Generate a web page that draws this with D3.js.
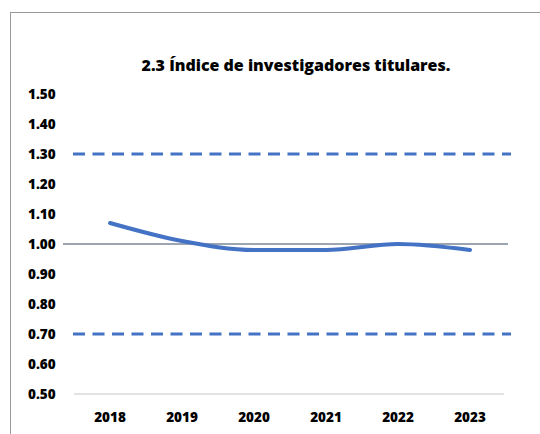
<!DOCTYPE html>
<html>
<head>
<meta charset="utf-8">
<script src="https://cdn.jsdelivr.net/npm/d3@7"></script>
<style>
  body { margin: 0; background: #fff; }
  text { font-family: "Open Sans", "Liberation Sans", sans-serif; font-weight: 800; fill: #000; }
</style>
</head>
<body>
<div id="chart"></div>
<script>
// Chart data
const years = ["2018", "2019", "2020", "2021", "2022", "2023"];
const indexValues = [1.07, 1.01, 0.98, 0.98, 1.00, 0.98];
const upperLimit = 1.30;
const lowerLimit = 0.70;
const referenceValue = 1.00;
const yTicks = [0.5, 0.6, 0.7, 0.8, 0.9, 1.0, 1.1, 1.2, 1.3, 1.4, 1.5];

const width = 540;
const height = 434;

// Create the SVG container
const svg = d3.select("#chart")
  .append("svg")
  .attr("width", width)
  .attr("height", height);

// Outer frame
svg.append("rect")
  .attr("x", 10.5)
  .attr("y", 12.5)
  .attr("width", 540)
  .attr("height", 440)
  .attr("fill", "none")
  .attr("stroke", "#999999")
  .attr("stroke-width", 1);

// Scales
const xScale = d3.scalePoint()
  .domain(years)
  .range([110, 470]);

const yScale = d3.scaleLinear()
  .domain([0.5, 1.5])
  .range([394, 94]);

// Title
svg.append("text")
  .attr("x", 296)
  .attr("y", 71)
  .attr("text-anchor", "middle")
  .style("font-size", "16px")
  .text("2.3 Índice de investigadores titulares.");

// Y axis labels
svg.selectAll(".ytick")
  .data(yTicks)
  .enter()
  .append("text")
  .attr("class", "ytick")
  .attr("x", 28)
  .attr("y", d => yScale(d) + 5)
  .style("font-size", "13.5px")
  .text(d => d3.format(".2f")(d));

// X axis baseline
svg.append("line")
  .attr("x1", 74)
  .attr("x2", 504)
  .attr("y1", yScale(0.5))
  .attr("y2", yScale(0.5))
  .attr("stroke", "#d9d9d9")
  .attr("stroke-width", 1.5);

// X axis labels
svg.selectAll(".xtick")
  .data(years)
  .enter()
  .append("text")
  .attr("class", "xtick")
  .attr("x", d => xScale(d))
  .attr("y", 422)
  .attr("text-anchor", "middle")
  .style("font-size", "13.5px")
  .text(d => d);

// Limit lines (dashed)
[upperLimit, lowerLimit].forEach(v => {
  svg.append("line")
    .attr("x1", 73)
    .attr("x2", 511)
    .attr("y1", yScale(v))
    .attr("y2", yScale(v))
    .attr("stroke", "#4472c4")
    .attr("stroke-width", 3)
    .attr("stroke-dasharray", "12,7.5");
});

// Reference line at 1.00
svg.append("line")
  .attr("x1", 63)
  .attr("x2", 508)
  .attr("y1", yScale(referenceValue))
  .attr("y2", yScale(referenceValue))
  .attr("stroke", "#3a4a60")
  .attr("stroke-width", 1);

// Series line
const line = d3.line()
  .x((d, i) => xScale(years[i]))
  .y(d => yScale(d))
  .curve(d3.curveMonotoneX);

svg.append("path")
  .datum(indexValues)
  .attr("d", line)
  .attr("fill", "none")
  .attr("stroke", "#4472c4")
  .attr("stroke-width", 4)
  .attr("stroke-linecap", "round");
</script>
</body>
</html>
